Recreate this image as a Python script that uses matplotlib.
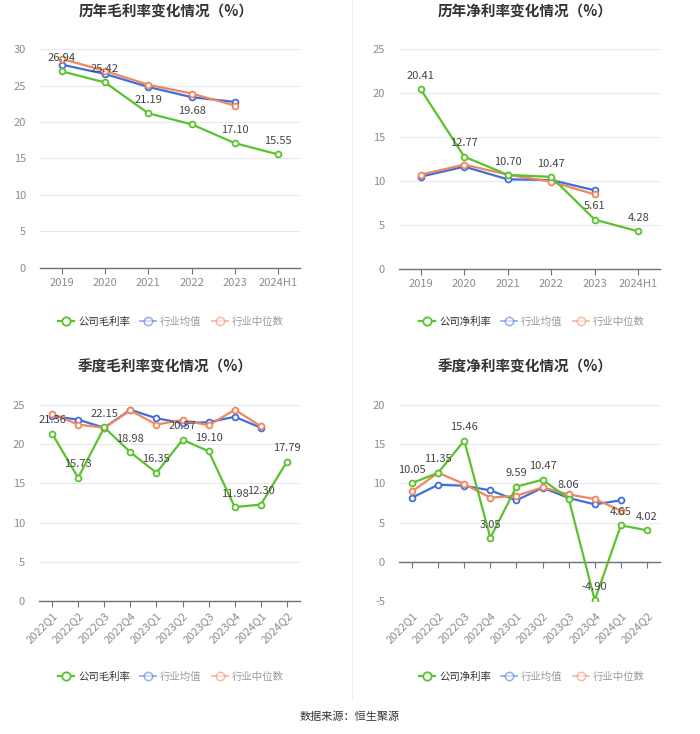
"""历年/季度 毛利率与净利率变化情况（%）四宫格折线图。"""
import matplotlib

matplotlib.use("Agg")
import matplotlib.pyplot as plt
from matplotlib.lines import Line2D

plt.rcParams["font.family"] = ["Noto Sans CJK SC", "DejaVu Sans"]
plt.rcParams["axes.unicode_minus"] = False

years = ["2019", "2020", "2021", "2022", "2023", "2024H1"]
quarters = ["2022Q1", "2022Q2", "2022Q3", "2022Q4", "2023Q1",
            "2023Q2", "2023Q3", "2023Q4", "2024Q1", "2024Q2"]

year_gross_company = [26.94, 25.42, 21.19, 19.68, 17.10, 15.55]
year_gross_mean = [27.86, 26.58, 24.80, 23.40, 22.75]
year_gross_median = [28.65, 27.00, 25.10, 23.90, 22.25]

year_net_company = [20.41, 12.77, 10.70, 10.47, 5.61, 4.28]
year_net_mean = [10.49, 11.63, 10.19, 10.11, 8.94]
year_net_median = [10.72, 11.86, 10.72, 9.92, 8.48]

q_gross_company = [21.36, 15.73, 22.15, 18.98, 16.35, 20.57, 19.10, 11.98, 12.30, 17.79]
q_gross_mean = [23.6, 23.13, 22.1, 24.4, 23.3, 22.7, 22.8, 23.5, 22.1]
q_gross_median = [23.9, 22.5, 22.1, 24.3, 22.5, 23.1, 22.4, 24.4, 22.3]

q_net_company = [10.05, 11.35, 15.46, 3.05, 9.59, 10.47, 8.06, -4.90, 4.65, 4.02]
q_net_mean = [8.18, 9.83, 9.70, 9.11, 7.84, 9.45, 8.14, 7.33, 7.84]
q_net_median = [8.98, 11.36, 9.92, 8.18, 8.43, 9.49, 8.60, 8.00, 6.53]

GREEN = "#5cc12e"
BLUE = "#3f6fd9"
ORANGE = "#f1865d"
GRID = "#e6e9f0"
AXIS = "#6e7079"
TICK = "#8a8c94"
LABEL = "#444444"
H = 734.0


def draw_panel(fig, rect, cats, company, mean, median, ylim, step, title,
               rotate=False, zero_axis=False):
    ax = fig.add_axes(rect)
    for side in ("top", "right", "left"):
        ax.spines[side].set_visible(False)
    ax.spines["bottom"].set_color(AXIS)
    ax.spines["bottom"].set_linewidth(1.0)
    if zero_axis:
        ax.spines["bottom"].set_position(("data", 0))

    x = list(range(len(cats)))
    for values, color, z in ((mean, BLUE, 3), (median, ORANGE, 3), (company, GREEN, 4)):
        ax.plot(x[:len(values)], values, color=color, linewidth=1.6, marker="o",
                markersize=4.2, markerfacecolor="white", markeredgewidth=1.3, zorder=z)
    for xi, v in zip(x, company):
        ax.annotate(f"{v:.2f}", (xi, v), xytext=(0, 6), textcoords="offset points",
                    ha="center", va="bottom", fontsize=8, color=LABEL, zorder=6)
    ax.set_xlim(-0.5, len(cats) - 0.5)
    ax.set_ylim(*ylim)
    ticks = list(range(ylim[0], ylim[1] + 1, step))
    ax.set_yticks(ticks)
    ax.set_xticks(x)
    for t in ticks:
        ax.axhline(t, color=GRID, linewidth=0.8, zorder=0)

    pad = 3
    if zero_axis:
        # 刻度线在 0 轴上，标签放在绘图区底部
        pad += (0 - ylim[0]) / (ylim[1] - ylim[0]) * rect[3] * H * 0.72
    ax.tick_params(axis="y", length=0, labelsize=8, labelcolor=TICK, pad=10)
    ax.tick_params(axis="x", length=4, color=AXIS, labelsize=8, labelcolor=TICK, pad=pad)
    if rotate:
        ax.set_xticklabels(cats, rotation=45, ha="right", rotation_mode="anchor")
    else:
        ax.set_xticklabels(cats)
    ax.set_facecolor("none")

    cx = rect[0] + rect[2] / 2
    fig.text(cx - 0.006, 0.984 if rect[1] > 0.5 else 0.5, title, ha="center", va="center",
             fontsize=10.5, fontweight="bold", color="#333333")
    return ax


def add_legend(fig, cx, cy, company_label):
    handles = [
        Line2D([], [], color=GREEN, linewidth=1.6, marker="o", markersize=6,
               markerfacecolor="white", markeredgewidth=1.3),
        Line2D([], [], color=BLUE, alpha=0.55, linewidth=1.3, marker="o", markersize=6,
               markerfacecolor="white", markeredgewidth=1.1),
        Line2D([], [], color=ORANGE, alpha=0.55, linewidth=1.3, marker="o", markersize=6,
               markerfacecolor="white", markeredgewidth=1.1),
    ]
    leg = fig.legend(handles, [company_label, "行业均值", "行业中位数"], loc="center",
                     bbox_to_anchor=(cx, cy), ncol=3, frameon=False, fontsize=7.5,
                     handlelength=1.5, handletextpad=0.4, columnspacing=1.0)
    texts = leg.get_texts()
    texts[0].set_color("#333333")
    texts[1].set_color("#9a9a9a")
    texts[2].set_color("#9a9a9a")


fig = plt.figure(figsize=(7.0, 7.34), dpi=100)

draw_panel(fig, [40 / 700, (H - 268) / H, 260 / 700, 219 / H], years,
           year_gross_company, year_gross_mean, year_gross_median, (0, 30), 5,
           "历年毛利率变化情况（%）")
draw_panel(fig, [399 / 700, (H - 269) / H, 261 / 700, 220 / H], years,
           year_net_company, year_net_mean, year_net_median, (0, 25), 5,
           "历年净利率变化情况（%）")
draw_panel(fig, [39 / 700, (H - 601) / H, 261 / 700, 196 / H], quarters,
           q_gross_company, q_gross_mean, q_gross_median, (0, 25), 5,
           "季度毛利率变化情况（%）", rotate=True)
draw_panel(fig, [399 / 700, (H - 601) / H, 261 / 700, 196 / H], quarters,
           q_net_company, q_net_mean, q_net_median, (-5, 20), 5,
           "季度净利率变化情况（%）", rotate=True, zero_axis=True)

add_legend(fig, 171 / 700, (H - 322) / H, "公司毛利率")
add_legend(fig, 532 / 700, (H - 322) / H, "公司净利率")
add_legend(fig, 171 / 700, (H - 677) / H, "公司毛利率")
add_legend(fig, 532 / 700, (H - 677) / H, "公司净利率")

fig.add_artist(Line2D([352 / 700, 352 / 700], [(H - 700) / H, 1.0],
                      color="#f0f0f0", linewidth=0.8))
fig.text(0.5, (H - 717) / H, "数据来源：恒生聚源", ha="center", va="center",
         fontsize=8, color="#333333")

fig.savefig("out.png", dpi=100, facecolor="white")
